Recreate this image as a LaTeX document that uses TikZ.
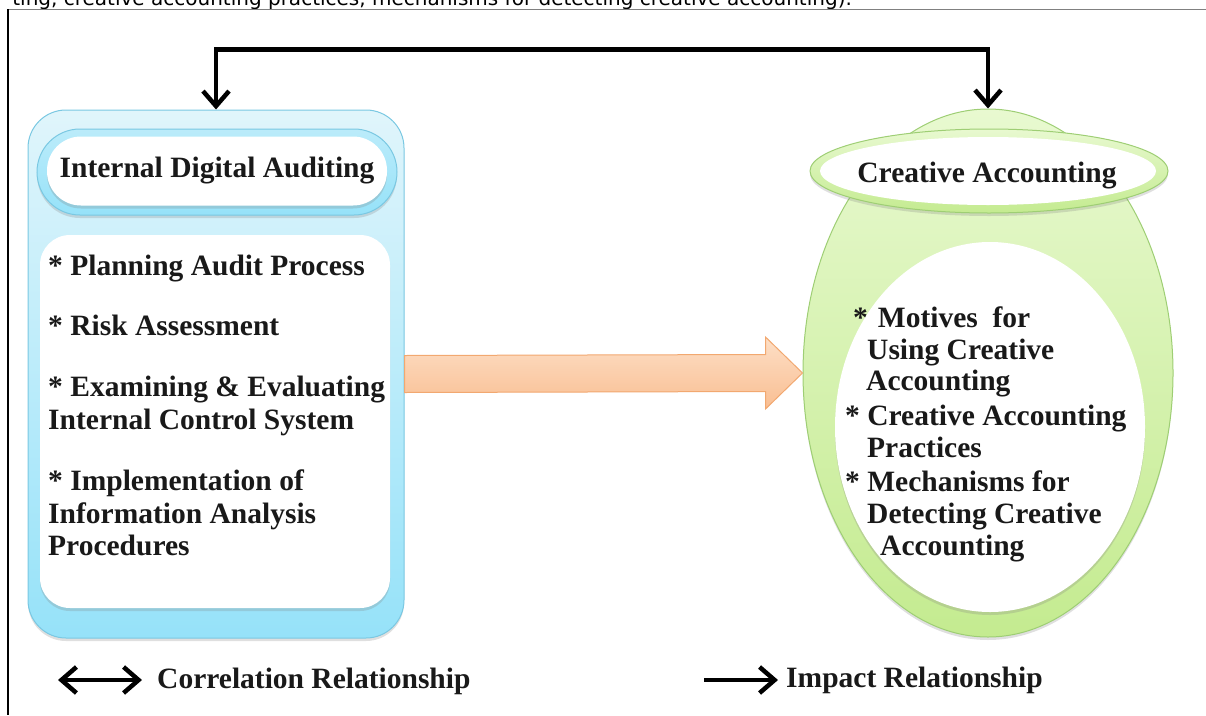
\documentclass[tikz,border=0pt]{standalone}
\usepackage{fontspec}
\setmainfont{Liberation Serif}
\newfontfamily\pagefont{DejaVu Sans}
\usetikzlibrary{arrows.meta,shapes.geometric,shadows}

\definecolor{IDAedge}{RGB}{122,200,226}
\definecolor{IDAtop}{RGB}{224,245,251}
\definecolor{IDAbottom}{RGB}{150,226,249}
\definecolor{CAedge}{RGB}{158,206,116}
\definecolor{CAtop}{RGB}{232,249,208}
\definecolor{CAbottom}{RGB}{196,235,144}
\definecolor{ARRedge}{RGB}{242,168,112}
\definecolor{ARRtop}{RGB}{253,223,198}
\definecolor{ARRbottom}{RGB}{249,190,146}
\definecolor{TXTdark}{RGB}{25,25,25}

\tikzset{
  itemtext/.style={font=\bfseries\fontsize{29.5}{33}\selectfont, text=TXTdark, inner sep=0pt, anchor=base west},
  softshadow/.style={drop shadow={shadow xshift=0pt, shadow yshift=-3pt, opacity=0.25}},
  corr/.style={line width=4.5pt, {Straight Barb[length=15pt,width=26pt]}-{Straight Barb[length=15pt,width=26pt]}},
  impact/.style={line width=4.5pt, -{Straight Barb[length=15pt,width=26pt]}},
  bigarrow/.style={draw=ARRedge, line width=1pt, top color=ARRtop, bottom color=ARRbottom}
}

\begin{document}
\begin{tikzpicture}[x=1pt, y=-1pt]
    % Page size, cut off what runs over it
    \useasboundingbox (0,0) rectangle (1206,715);
    \clip (0,0) rectangle (1206,715);

    % Line of running text above the frame
    \node[font=\pagefont\fontsize{20}{24}\selectfont, anchor=base east, inner sep=0pt] (pageline) at (852,5) {ting, creative accounting practices, mechanisms for detecting creative accounting).};

    % Frame of the figure
    \draw[gray, line width=1pt] (8,9) -- (1206,9);
    \draw[black, line width=1.2pt] (8,9) -- (8,715);

    % Left block
    \node[draw=IDAedge, line width=1pt, top color=IDAtop, bottom color=IDAbottom, rounded corners=38pt, minimum width=376pt, minimum height=528pt, softshadow] (ida) at (216,374) {};
    \node[draw=IDAedge, line width=1pt, top color=IDAtop!50!IDAbottom, bottom color=IDAbottom, rounded corners=43pt, minimum width=360pt, minimum height=86pt, softshadow] (idaring) at (217,172) {};
    \node[fill=white, rounded corners=34pt, minimum width=340pt, minimum height=69pt, softshadow] (idahead) at (217,171) {};
    \node[itemtext, anchor=base] (idatitle) at (217,177) {Internal Digital Auditing};
    \node[fill=white, rounded corners=30pt, minimum width=350pt, minimum height=373pt, softshadow] (idabody) at (215,421.5) {};

    % Items of the left block
    \node[itemtext] (plan) at (48,275) {* Planning Audit Process};
    \node[itemtext] (risk) at (48,335) {* Risk Assessment};
    \node[itemtext] (exam) at (48,396) {* Examining \& Evaluating};
    \node[itemtext] (examb) at (48,429) {Internal Control System};
    \node[itemtext] (impl) at (48,490) {* Implementation of};
    \node[itemtext] (implb) at (48,523) {Information Analysis};
    \node[itemtext] (implc) at (48,555) {Procedures};

    % Right block
    \node[ellipse, draw=CAedge, line width=1pt, top color=CAtop, bottom color=CAbottom, minimum width=370pt, minimum height=528pt, softshadow] (ca) at (988,373) {};
    \node[ellipse, fill=white, minimum width=310pt, minimum height=370pt, softshadow] (cabody) at (990,427) {};
    \node[ellipse, draw=CAedge, line width=1pt, top color=CAtop, bottom color=CAbottom, minimum width=358pt, minimum height=84pt, softshadow] (caring) at (989,171) {};
    \node[ellipse, fill=white, minimum width=336pt, minimum height=68pt] (cahead) at (988,171) {};
    \node[itemtext, anchor=base] (catitle) at (987,182) {Creative Accounting};

    % Items of the right block
    \node[itemtext] (motive) at (853,327) {*\hspace{10pt}Motives\ \ for};
    \node[itemtext] (motiveb) at (867,359) {Using Creative};
    \node[itemtext] (motivec) at (866,390) {Accounting};
    \node[itemtext] (practice) at (845,425) {* Creative Accounting};
    \node[itemtext] (practiceb) at (867,457) {Practices};
    \node[itemtext] (detect) at (845,491) {* Mechanisms for};
    \node[itemtext] (detectb) at (867,523) {Detecting Creative};
    \node[itemtext] (detectc) at (880,555) {Accounting};

    % Wide arrow from left block to right block
    \draw[bigarrow] ([yshift=18.5pt]ida.east) -- ([xshift=-37pt,yshift=18.5pt]ca.west)
        -- ([xshift=-37pt,yshift=36pt]ca.west) -- (ca.west)
        -- ([xshift=-37pt,yshift=-36pt]ca.west) -- ([xshift=-37pt,yshift=-18.5pt]ca.west)
        -- ([yshift=-18.5pt]ida.east) -- cycle;

    % Link over the top
    \draw[corr] (ida.north) -- ++(0,-60) -| (ca.north);

    % Legend
    \coordinate (corrL) at (58,680);
    \coordinate (corrR) at (142,680);
    \draw[corr] (corrL) -- (corrR);
    \node[itemtext] (corrtext) at (157,688) {Correlation Relationship};

    \coordinate (impL) at (704,680);
    \coordinate (impR) at (778,680);
    \draw[impact] (impL) -- (impR);
    \node[itemtext] (imptext) at (786,687) {Impact Relationship};
\end{tikzpicture}
\end{document}
